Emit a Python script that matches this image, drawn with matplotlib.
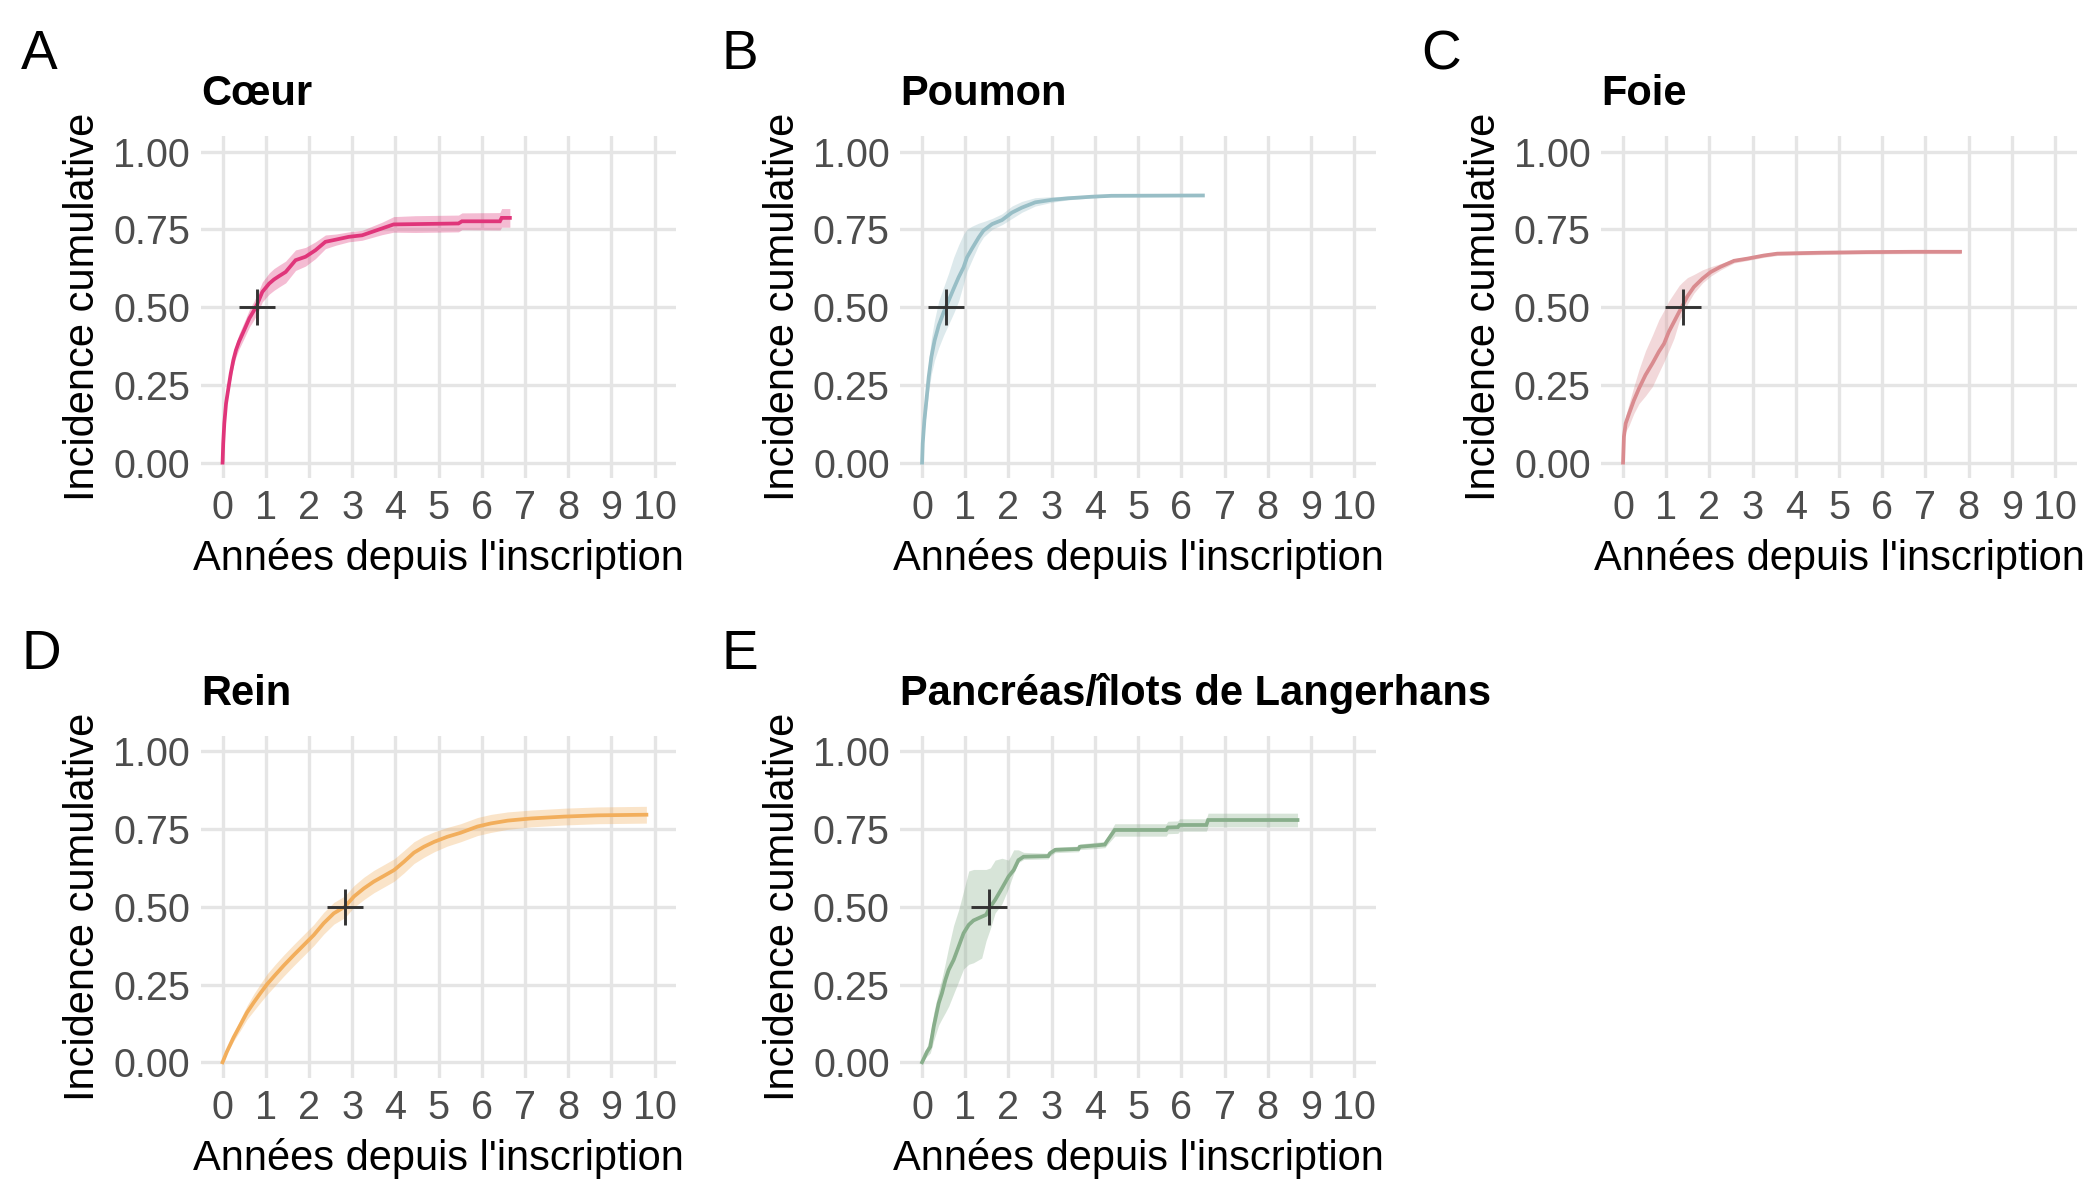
import matplotlib
matplotlib.use('Agg')
import matplotlib.pyplot as plt

plt.rcParams['font.family'] = ['Liberation Sans', 'DejaVu Sans']

organs = ['Cœur', 'Poumon', 'Foie', 'Rein', 'Pancréas/îlots de Langerhans']
letters = ['A', 'B', 'C', 'D', 'E']
colors = ['#E0357A', '#98BEC6', '#D98B8F', '#F2AE5C', '#88AE8B']
median_times = [0.79, 0.56, 1.39, 2.83, 1.55]

x_ticks = list(range(0, 11))
y_ticks = [0, 0.25, 0.5, 0.75, 1.0]
y_tick_labels = ['0.00', '0.25', '0.50', '0.75', '1.00']

# Cœur
coeur_t = [0, 0.015, 0.04, 0.08, 0.14, 0.19, 0.25, 0.31, 0.38, 0.50, 0.62, 0.73, 0.81, 0.92,
           1.08, 1.19, 1.31, 1.46, 1.69, 1.92, 2.15, 2.38, 2.62, 2.92, 3.23, 3.46, 3.69, 3.96,
           4.46, 5.46, 5.54, 6.42, 6.46, 6.65]
coeur_ci = [0, 0.062, 0.126, 0.19, 0.244, 0.287, 0.33, 0.362, 0.389, 0.426, 0.464, 0.49, 0.512, 0.549,
            0.576, 0.589, 0.60, 0.613, 0.651, 0.662, 0.683, 0.71, 0.717, 0.726, 0.731, 0.742, 0.753, 0.766,
            0.767, 0.769, 0.776, 0.776, 0.787, 0.787]
coeur_lo = [0, 0.058, 0.118, 0.178, 0.229, 0.269, 0.31, 0.34, 0.365, 0.40, 0.436, 0.46, 0.481, 0.517,
            0.542, 0.554, 0.565, 0.578, 0.618, 0.632, 0.656, 0.688, 0.699, 0.71, 0.715, 0.724, 0.733, 0.741,
            0.74, 0.742, 0.749, 0.748, 0.757, 0.757]
coeur_hi = [0, 0.066, 0.134, 0.202, 0.259, 0.305, 0.35, 0.384, 0.413, 0.452, 0.492, 0.52, 0.543, 0.581,
            0.61, 0.624, 0.635, 0.648, 0.684, 0.692, 0.71, 0.732, 0.735, 0.742, 0.747, 0.76, 0.773, 0.791,
            0.794, 0.796, 0.803, 0.804, 0.817, 0.817]

# Poumon
poumon_t = [0, 0.015, 0.054, 0.10, 0.154, 0.215, 0.29, 0.385, 0.50, 0.615, 0.73, 0.846, 0.96, 1.04,
            1.15, 1.31, 1.42, 1.62, 1.85, 2.08, 2.31, 2.62, 3.0, 3.38, 3.92, 4.38, 6.5]
poumon_ci = [0, 0.062, 0.137, 0.20, 0.276, 0.34, 0.393, 0.441, 0.484, 0.521, 0.559, 0.596, 0.628, 0.66,
             0.687, 0.724, 0.746, 0.767, 0.78, 0.804, 0.82, 0.837, 0.845, 0.85, 0.855, 0.858, 0.859]
poumon_lo = [0, 0.05, 0.11, 0.165, 0.23, 0.285, 0.33, 0.37, 0.41, 0.445, 0.48, 0.52, 0.575, 0.615,
             0.65, 0.70, 0.725, 0.75, 0.765, 0.785, 0.805, 0.825, 0.837, 0.845, 0.851, 0.855, 0.856]
poumon_hi = [0, 0.075, 0.165, 0.24, 0.325, 0.40, 0.46, 0.52, 0.565, 0.61, 0.66, 0.70, 0.735, 0.75,
             0.76, 0.77, 0.775, 0.785, 0.80, 0.825, 0.84, 0.852, 0.855, 0.857, 0.86, 0.862, 0.862]

# Foie
foie_t = [0, 0.02, 0.06, 0.14, 0.25, 0.37, 0.52, 0.68, 0.83, 0.95, 1.06, 1.18, 1.30, 1.37, 1.49,
          1.64, 1.84, 2.03, 2.26, 2.57, 2.88, 3.26, 3.57, 4.57, 5.65, 6.73, 7.8]
foie_ci = [0, 0.084, 0.126, 0.158, 0.20, 0.239, 0.282, 0.319, 0.357, 0.383, 0.421, 0.453, 0.485, 0.503, 0.535,
           0.565, 0.592, 0.613, 0.63, 0.649, 0.656, 0.666, 0.672, 0.675, 0.677, 0.678, 0.678]
foie_lo = [0, 0.07, 0.10, 0.12, 0.158, 0.19, 0.215, 0.245, 0.29, 0.325, 0.36, 0.40, 0.455, 0.475, 0.51,
           0.545, 0.578, 0.60, 0.62, 0.642, 0.65, 0.66, 0.666, 0.669, 0.671, 0.672, 0.672]
foie_hi = [0, 0.10, 0.15, 0.19, 0.245, 0.30, 0.36, 0.41, 0.46, 0.49, 0.52, 0.545, 0.57, 0.58, 0.595,
           0.605, 0.62, 0.63, 0.64, 0.656, 0.662, 0.672, 0.678, 0.681, 0.683, 0.684, 0.684]

# Rein
rein_t = [0, 0.10, 0.255, 0.41, 0.565, 0.72, 0.874, 1.03, 1.22, 1.415, 1.65, 1.88, 2.11, 2.34, 2.575,
          2.83, 3.04, 3.27, 3.50, 3.73, 3.97, 4.20, 4.43, 4.66, 4.90, 5.20, 5.51, 5.90, 6.21, 6.60,
          7.14, 7.91, 8.68, 9.81]
rein_ci = [0, 0.034, 0.08, 0.12, 0.16, 0.192, 0.222, 0.251, 0.281, 0.311, 0.345, 0.377, 0.409, 0.447, 0.479,
           0.50, 0.533, 0.559, 0.581, 0.599, 0.618, 0.645, 0.674, 0.693, 0.709, 0.725, 0.738, 0.758, 0.768, 0.777,
           0.784, 0.79, 0.794, 0.796]
rein_lo = [0, 0.029, 0.068, 0.102, 0.138, 0.165, 0.192, 0.218, 0.247, 0.277, 0.311, 0.343, 0.375, 0.412, 0.444,
           0.465, 0.498, 0.523, 0.545, 0.563, 0.582, 0.609, 0.639, 0.659, 0.677, 0.695, 0.709, 0.729, 0.739, 0.749,
           0.757, 0.763, 0.767, 0.769]
rein_hi = [0, 0.039, 0.092, 0.138, 0.182, 0.219, 0.252, 0.284, 0.315, 0.345, 0.379, 0.411, 0.443, 0.482, 0.514,
           0.535, 0.568, 0.595, 0.617, 0.635, 0.654, 0.681, 0.709, 0.727, 0.741, 0.755, 0.767, 0.787, 0.797, 0.805,
           0.811, 0.817, 0.821, 0.823]

# Pancréas/îlots de Langerhans
pancreas_t = [0, 0.115, 0.19, 0.27, 0.385, 0.46, 0.54, 0.615, 0.73, 0.846, 0.96, 1.08, 1.19, 1.38, 1.48,
              1.58, 1.69, 1.85, 2.0, 2.12, 2.23, 2.35, 2.92, 2.96, 3.08, 3.62, 3.65, 4.0, 4.23, 4.27,
              4.46, 5.65, 5.69, 5.92, 5.96, 6.58, 6.62, 8.69]
pancreas_ci = [0, 0.034, 0.05, 0.115, 0.19, 0.222, 0.265, 0.297, 0.329, 0.372, 0.415, 0.442, 0.456, 0.468, 0.474,
               0.50, 0.522, 0.56, 0.597, 0.618, 0.65, 0.661, 0.663, 0.672, 0.683, 0.686, 0.693, 0.697, 0.70, 0.709,
               0.747, 0.747, 0.755, 0.756, 0.763, 0.763, 0.779, 0.779]
pancreas_lo = [0, 0.02, 0.03, 0.07, 0.12, 0.14, 0.16, 0.18, 0.22, 0.26, 0.30, 0.315, 0.32, 0.335, 0.39,
               0.43, 0.48, 0.51, 0.56, 0.607, 0.642, 0.652, 0.654, 0.663, 0.674, 0.677, 0.684, 0.687, 0.69, 0.697,
               0.727, 0.727, 0.735, 0.736, 0.743, 0.743, 0.757, 0.757]
pancreas_hi = [0, 0.05, 0.09, 0.16, 0.23, 0.27, 0.32, 0.37, 0.44, 0.49, 0.55, 0.615, 0.62, 0.62, 0.62,
               0.625, 0.65, 0.656, 0.65, 0.683, 0.683, 0.675, 0.672, 0.681, 0.692, 0.695, 0.702, 0.707, 0.71, 0.721,
               0.767, 0.767, 0.775, 0.776, 0.783, 0.783, 0.801, 0.801]

series = [
    (coeur_t, coeur_ci, coeur_lo, coeur_hi),
    (poumon_t, poumon_ci, poumon_lo, poumon_hi),
    (foie_t, foie_ci, foie_lo, foie_hi),
    (rein_t, rein_ci, rein_lo, rein_hi),
    (pancreas_t, pancreas_ci, pancreas_lo, pancreas_hi),
]

fig = plt.figure(figsize=(7, 4), dpi=300)

# panel layout (figure fractions)
lefts = [0.0957, 0.4288, 0.7626]
bottoms = [0.6015, 0.1018]
w, h = 0.2263, 0.2851

for i, (t, ci, lo, hi) in enumerate(series):
    row, col = divmod(i, 3)
    ax = fig.add_axes([lefts[col], bottoms[row], w, h])
    c = colors[i]
    ax.fill_between(t, lo, hi, color=c, alpha=0.33, linewidth=0)
    ax.plot(t, ci, color=c, lw=0.9, solid_joinstyle='miter')
    ax.plot([median_times[i]], [0.5], marker='+', ms=8.8, mew=0.7, color='#333333', linestyle='none')

    ax.set_xlim(-0.5, 10.5)
    ax.set_ylim(-0.05, 1.05)
    ax.set_xticks(x_ticks)
    ax.set_yticks(y_ticks)
    ax.set_yticklabels(y_tick_labels)
    ax.grid(True, color='#E5E5E5', lw=0.8)
    ax.set_axisbelow(True)
    for s in ax.spines.values():
        s.set_visible(False)
    ax.tick_params(axis='both', length=0, labelsize=9.5, labelcolor='#4D4D4D')
    ax.tick_params(axis='x', pad=2.7)
    ax.tick_params(axis='y', pad=2.6)

    ax.text(0.0, 1.091, organs[i], transform=ax.transAxes, fontsize=10,
            fontweight='bold', ha='left', va='baseline')
    ax.text(0.5, -0.268, "Années depuis l'inscription", transform=ax.transAxes,
            fontsize=10, ha='center', va='baseline')
    ax.text(-0.225, 0.5, 'Incidence cumulative', transform=ax.transAxes, fontsize=10,
            rotation=90, rotation_mode='anchor', ha='center', va='baseline')

    fig.text((21 + col * 700) / 2100, 1 - (69 + row * 599.6) / 1200, letters[i],
             fontsize=13.2, ha='left', va='baseline')

fig.savefig('out.png', dpi=300)
